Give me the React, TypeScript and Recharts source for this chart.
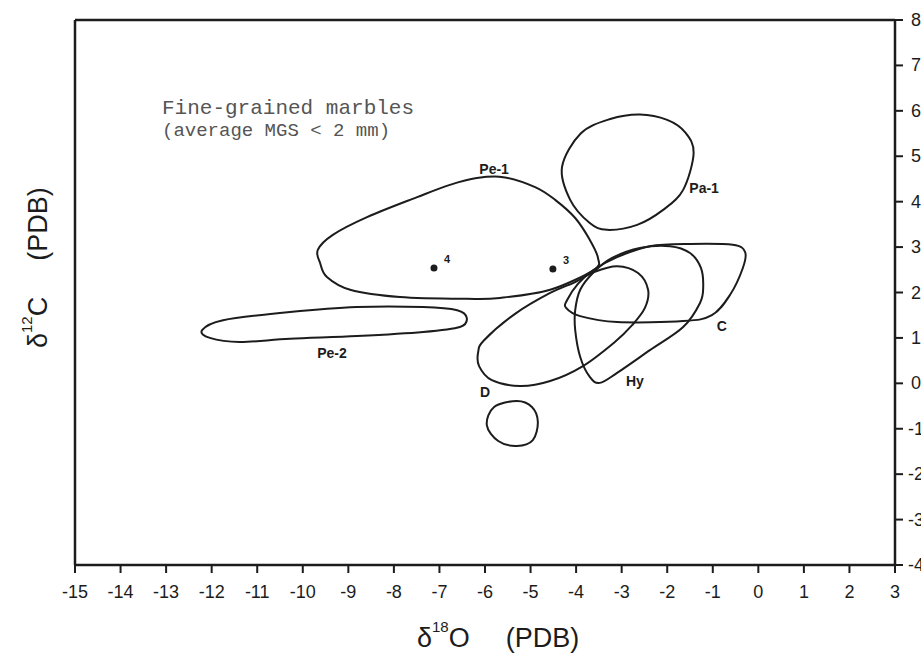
import React from 'react';
import {
  ComposedChart,
  Line,
  Scatter,
  XAxis,
  YAxis,
  ReferenceLine,
} from 'recharts';

// outlines of the isotope fields, δ18O (x) vs δ13C (y)
const peOne = [
  { x: -9.67, y: 2.94 }, { x: -9.62, y: 2.65 }, { x: -9.47, y: 2.34 }, { x: -8.96, y: 2.06 },
  { x: -7.87, y: 1.9 }, { x: -6.4, y: 1.86 }, { x: -5.67, y: 1.88 }, { x: -4.57, y: 2.06 },
  { x: -3.61, y: 2.5 }, { x: -3.52, y: 2.76 }, { x: -3.7, y: 3.16 }, { x: -4.02, y: 3.64 },
  { x: -4.46, y: 4.04 }, { x: -4.9, y: 4.32 }, { x: -5.6, y: 4.54 }, { x: -6.18, y: 4.52 },
  { x: -6.77, y: 4.37 }, { x: -7.49, y: 4.1 }, { x: -8.59, y: 3.66 }, { x: -9.34, y: 3.27 },
];
const peTwo = [
  { x: -12.21, y: 1.17 }, { x: -11.75, y: 1.39 }, { x: -10.28, y: 1.57 }, { x: -8.81, y: 1.68 },
  { x: -7.36, y: 1.68 }, { x: -6.61, y: 1.61 }, { x: -6.4, y: 1.44 }, { x: -6.55, y: 1.24 },
  { x: -7.36, y: 1.13 }, { x: -8.81, y: 1.04 }, { x: -10.28, y: 0.98 }, { x: -11.38, y: 0.91 },
  { x: -12.04, y: 1.0 },
];
const paOne = [
  { x: -2.6, y: 5.92 }, { x: -2.0, y: 5.8 }, { x: -1.6, y: 5.52 }, { x: -1.42, y: 5.07 },
  { x: -1.65, y: 4.26 }, { x: -2.09, y: 3.82 }, { x: -2.66, y: 3.49 }, { x: -3.32, y: 3.38 },
  { x: -3.7, y: 3.53 }, { x: -4.13, y: 4.04 }, { x: -4.31, y: 4.76 }, { x: -3.9, y: 5.5 },
  { x: -3.25, y: 5.82 },
];
const cField = [
  { x: -4.2, y: 1.83 }, { x: -3.96, y: 2.19 }, { x: -3.61, y: 2.5 }, { x: -3.1, y: 2.78 },
  { x: -2.38, y: 3.02 }, { x: -1.5, y: 3.07 }, { x: -0.56, y: 3.05 }, { x: -0.29, y: 2.89 },
  { x: -0.34, y: 2.54 }, { x: -0.62, y: 1.95 }, { x: -1.02, y: 1.5 }, { x: -1.65, y: 1.37 },
  { x: -3.1, y: 1.35 }, { x: -3.91, y: 1.48 }, { x: -4.22, y: 1.66 },
];
const hyField = [
  { x: -3.61, y: 2.45 }, { x: -3.21, y: 2.76 }, { x: -2.6, y: 2.98 }, { x: -1.94, y: 3.02 },
  { x: -1.5, y: 2.87 }, { x: -1.26, y: 2.54 }, { x: -1.21, y: 2.12 }, { x: -1.28, y: 1.77 },
  { x: -1.65, y: 1.24 }, { x: -2.38, y: 0.73 }, { x: -3.1, y: 0.23 }, { x: -3.48, y: 0.01 },
  { x: -3.7, y: 0.14 }, { x: -3.91, y: 0.58 }, { x: -4.02, y: 1.17 }, { x: -4.02, y: 1.61 },
  { x: -3.91, y: 2.06 },
];
const dField = [
  { x: -3.61, y: 2.45 }, { x: -3.1, y: 2.58 }, { x: -2.64, y: 2.43 }, { x: -2.42, y: 2.06 },
  { x: -2.49, y: 1.66 }, { x: -2.77, y: 1.28 }, { x: -3.15, y: 0.91 }, { x: -3.85, y: 0.38 },
  { x: -4.57, y: 0.05 }, { x: -5.23, y: -0.06 }, { x: -5.85, y: 0.07 }, { x: -6.13, y: 0.38 },
  { x: -6.15, y: 0.69 }, { x: -6.02, y: 0.95 }, { x: -5.34, y: 1.53 }, { x: -4.57, y: 1.99 },
  { x: -4.02, y: 2.23 },
];
const dSmall = [
  { x: -5.3, y: -0.39 }, { x: -4.97, y: -0.52 }, { x: -4.84, y: -0.85 }, { x: -4.95, y: -1.25 },
  { x: -5.3, y: -1.38 }, { x: -5.71, y: -1.27 }, { x: -5.96, y: -0.92 }, { x: -5.8, y: -0.52 },
];

const samples = [
  { x: -7.12, y: 2.54, name: '4' },
  { x: -4.51, y: 2.52, name: '3' },
];
const fieldLabels = [
  { x: -5.8, y: 4.72, name: 'Pe-1' },
  { x: -1.19, y: 4.3, name: 'Pa-1' },
  { x: -9.36, y: 0.67, name: 'Pe-2' },
  { x: -0.8, y: 1.26, name: 'C' },
  { x: -2.71, y: 0.05, name: 'Hy' },
  { x: -6.0, y: -0.19, name: 'D' },
];

const xTicks = [-15, -14, -13, -12, -11, -10, -9, -8, -7, -6, -5, -4, -3, -2, -1, 0, 1, 2, 3];
const yTicks = [-4, -3, -2, -1, 0, 1, 2, 3, 4, 5, 6, 7, 8];

const fields = [peOne, peTwo, paOne, cField, hyField, dField, dSmall];

const ink = '#1c1c1c';
const sans = '"Liberation Sans", Arial, sans-serif';

// closed catmull-rom so the outline passes through every traced point
function closedSmooth(context: any) {
  let pts: number[][] = [];
  return {
    areaStart() {},
    areaEnd() {},
    lineStart() {
      pts = [];
    },
    point(x: number, y: number) {
      pts.push([+x, +y]);
    },
    lineEnd() {
      const n = pts.length;
      if (!n) return;
      context.moveTo(pts[0][0], pts[0][1]);
      for (let i = 0; i < n; i++) {
        const p0 = pts[(i - 1 + n) % n];
        const p1 = pts[i];
        const p2 = pts[(i + 1) % n];
        const p3 = pts[(i + 2) % n];
        context.bezierCurveTo(
          p1[0] + (p2[0] - p0[0]) / 6,
          p1[1] + (p2[1] - p0[1]) / 6,
          p2[0] - (p3[0] - p1[0]) / 6,
          p2[1] - (p3[1] - p1[1]) / 6,
          p2[0],
          p2[1]
        );
      }
      context.closePath();
    },
  };
}

const XTick = ({ x, y, payload }: any) => (
  <text x={x} y={y + 23} textAnchor="middle" fontSize={18} fontFamily={sans} fill={ink}>
    {payload.value}
  </text>
);

const YTick = ({ x, y, payload }: any) => (
  <text x={x + 11} y={y + 6} textAnchor="middle" fontSize={18} fontFamily={sans} fill={ink}>
    {payload.value}
  </text>
);

const SampleDot = ({ cx, cy, payload }: any) => (
  <g>
    <circle cx={cx} cy={cy} r={3.5} fill={ink} />
    <text x={cx + 10} y={cy - 5} fontSize={11} fontWeight="bold" fontFamily={sans} fill={ink}>
      {payload.name}
    </text>
  </g>
);

const FieldLabel = ({ cx, cy, payload }: any) => (
  <text
    x={cx}
    y={cy}
    textAnchor="middle"
    dominantBaseline="central"
    fontSize={14}
    fontWeight="bold"
    fontFamily={sans}
    fill={ink}
  >
    {payload.name}
  </text>
);

export default function App() {
  return (
    <div
      style={{
        position: 'fixed',
        left: 0,
        top: 0,
        width: 921,
        height: 657,
        overflow: 'hidden',
        background: '#fff',
      }}
    >
      <ComposedChart width={960} height={657} margin={{ top: 20, right: 15, bottom: 52, left: 75 }}>
        <XAxis
          type="number"
          dataKey="x"
          domain={[-15, 3]}
          ticks={xTicks}
          interval={0}
          height={40}
          tickSize={8}
          axisLine={{ stroke: ink, strokeWidth: 2.5 }}
          tickLine={{ stroke: ink, strokeWidth: 2 }}
          tick={<XTick />}
          allowDataOverflow
        />
        <YAxis
          type="number"
          dataKey="y"
          orientation="right"
          domain={[-4, 8]}
          ticks={yTicks}
          interval={0}
          width={50}
          tickSize={8}
          axisLine={{ stroke: ink, strokeWidth: 2.5 }}
          tickLine={{ stroke: ink, strokeWidth: 2 }}
          tick={<YTick />}
          allowDataOverflow
        />
        <ReferenceLine y={8} stroke={ink} strokeWidth={2.5} />
        <ReferenceLine x={-15} stroke={ink} strokeWidth={2.5} />
        {fields.map((f, i) => (
          <Line
            key={i}
            data={f}
            dataKey="y"
            type={closedSmooth as any}
            stroke={ink}
            strokeWidth={2}
            dot={false}
            activeDot={false}
            isAnimationActive={false}
          />
        ))}
        <Scatter data={samples} dataKey="y" shape={<SampleDot />} isAnimationActive={false} />
        <Scatter data={fieldLabels} dataKey="y" shape={<FieldLabel />} isAnimationActive={false} />
      </ComposedChart>
      <svg
        width={921}
        height={657}
        style={{ position: 'absolute', left: 0, top: 0, pointerEvents: 'none' }}
      >
        <text x={162} y={114} fontSize={21} fontFamily='"Liberation Mono", monospace' fill="#555">
          Fine-grained marbles
        </text>
        <text x={162} y={136} fontSize={19} fontFamily='"Liberation Mono", monospace' fill="#555">
          (average MGS &lt; 2 mm)
        </text>
        <text x={417} y={647} fontSize={27} fontFamily={sans} fill={ink}>
          <tspan>δ</tspan>
          <tspan fontSize={15} dy={-15}>18</tspan>
          <tspan dy={15}>O</tspan>
          <tspan dx={36}>(PDB)</tspan>
        </text>
        <text
          x={0}
          y={0}
          fontSize={27}
          fontFamily={sans}
          fill={ink}
          transform="translate(47 348) rotate(-90)"
        >
          <tspan>δ</tspan>
          <tspan fontSize={15} dy={-15}>12</tspan>
          <tspan dy={15}>C</tspan>
          <tspan dx={36}>(PDB)</tspan>
        </text>
      </svg>
    </div>
  );
}
